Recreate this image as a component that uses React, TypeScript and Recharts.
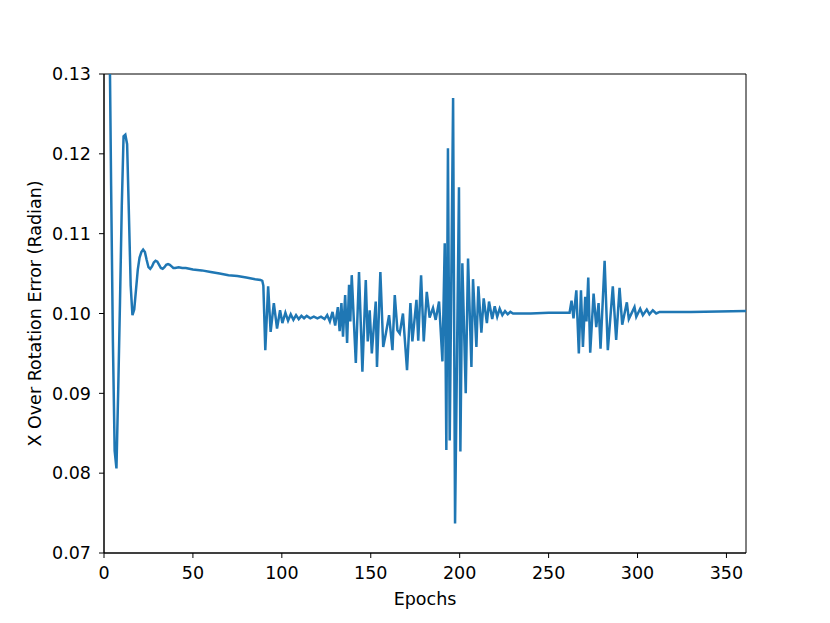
import { Label, Line, LineChart, ReferenceArea, XAxis, YAxis } from "recharts";

const epochs = [
  0, 1, 2, 3, 4, 5, 6, 7, 8, 9, 10, 11, 12, 13, 14, 15, 16, 17, 18, 19, 20,
  21, 22, 23, 24, 25, 26, 27, 28, 29, 30, 31, 32, 33, 34, 35, 36, 37, 38, 39,
  40, 42, 44, 46, 48, 50, 55, 60, 65, 70, 75, 80, 85, 88, 89, 89.6, 90.7,
  92.3, 93.7, 95.5, 97.3, 99, 100.3, 102, 103.5, 105, 106.5, 108, 109.5, 111,
  112.5, 114, 116, 118, 120, 122, 124, 125.5, 127, 128.5, 130, 131.5, 132.5,
  133.5, 134.4, 135.6, 136.7, 137.8, 138.5, 139.3, 141.6, 143.4, 145.3, 147.2,
  148.3, 149.4, 150.6, 152.8, 153.5, 155.4, 157, 158.5, 160.3, 162.2, 163.5,
  165, 166.3, 168.1, 170.4, 172.3, 173.4, 175.7, 176.7, 178.3, 179.8, 181.5,
  183.1, 185, 186.5, 188.4, 190.3, 191.6, 192.5, 193.4, 194.4, 196.3, 197.4,
  199.6, 200.4, 201.5, 203.4, 204.7, 206.6, 207.5, 209.4, 210.5, 212.2, 213.5,
  215.3, 216.5, 218.3, 219.7, 221.1, 222.5, 224, 225.5, 227, 228.5, 230, 240,
  250, 261.8, 262.9, 264, 265.6, 267, 268.2, 269.3, 270.6, 271.3, 272.3,
  273.4, 275.3, 276.8, 278.1, 279.2, 281.5, 283.3, 286.1, 288, 289.9, 291.4,
  294, 295.1, 298.3, 299.3, 301.5, 303, 305.2, 306.7, 308.6, 310.5, 312.4,
  330, 361,
];

const xRotErr = [
  0.175, 0.165, 0.152, 0.138, 0.116, 0.0965, 0.0828, 0.0806, 0.0905, 0.1015,
  0.1135, 0.1222, 0.1224, 0.1212, 0.1125, 0.1035, 0.0998, 0.1005, 0.103,
  0.1055, 0.107, 0.1077, 0.108, 0.1077, 0.1067, 0.1058, 0.1056, 0.1059,
  0.1064, 0.1066, 0.1065, 0.1061, 0.1057, 0.1056, 0.1058, 0.1061, 0.1062,
  0.1061, 0.1059, 0.1057, 0.1057, 0.1058, 0.1057, 0.1057, 0.1056, 0.1055,
  0.1054, 0.1052, 0.105, 0.1048, 0.1047, 0.1045, 0.1043, 0.1042, 0.1041,
  0.1035, 0.0954, 0.1034, 0.0977, 0.1013, 0.0981, 0.1004, 0.0988, 0.1001,
  0.0991, 0.0999, 0.0992, 0.0998, 0.0993, 0.0997, 0.0994, 0.0997, 0.0994,
  0.0996, 0.0994, 0.0996, 0.0993, 0.0998, 0.099, 0.1002, 0.0985, 0.1008,
  0.0978, 0.1013, 0.0971, 0.1023, 0.0963, 0.1036, 0.099, 0.1048, 0.0938,
  0.1052, 0.0927, 0.1042, 0.0965, 0.1004, 0.095, 0.1015, 0.0933, 0.1052,
  0.0958, 0.0975, 0.0998, 0.0954, 0.1023, 0.0979, 0.0975, 0.1, 0.0929,
  0.1013, 0.0965, 0.1017, 0.0966, 0.1048, 0.0965, 0.1027, 0.0995, 0.1007,
  0.0992, 0.1015, 0.094, 0.1088, 0.0829, 0.1207, 0.0841, 0.127, 0.0737,
  0.1158, 0.0827, 0.1063, 0.09, 0.1069, 0.0933, 0.1043, 0.0958, 0.1034,
  0.0976, 0.1019, 0.0988, 0.1015, 0.0993, 0.1009, 0.0996, 0.1006, 0.0998,
  0.1003, 0.0999, 0.1002, 0.1, 0.1, 0.1001, 0.1001, 0.1016, 0.0994, 0.1029,
  0.095, 0.1029, 0.0958, 0.1021, 0.099, 0.1045, 0.0951, 0.1025, 0.0983,
  0.1013, 0.0956, 0.1066, 0.0954, 0.1034, 0.0967, 0.1032, 0.0986, 0.1014,
  0.0993, 0.1008, 0.0996, 0.1006, 0.0998, 0.1005, 0.0999, 0.1004, 0.1,
  0.1002, 0.1002, 0.1003,
];

const xTicks = [0, 50, 100, 150, 200, 250, 300, 350];
const yTicks = [0.07, 0.08, 0.09, 0.1, 0.11, 0.12, 0.13];

const data = epochs.map((epoch, i) => ({ epoch, err: xRotErr[i] }));

const tickStyle = { fill: "#000", fontSize: 17.5, fontFamily: "DejaVu Sans" };

export default function App() {
  return (
    <div
      style={{
        position: "absolute",
        left: 0,
        top: 0,
        width: 830,
        height: 623,
        background: "#fff",
        fontFamily: "DejaVu Sans",
      }}
    >
      <LineChart
        width={830}
        height={623}
        data={data}
        margin={{ top: 74, right: 84, bottom: 0, left: 0 }}
      >
        <XAxis
          dataKey="epoch"
          type="number"
          domain={[0, 361]}
          ticks={xTicks}
          allowDataOverflow
          height={70}
          tickSize={5}
          tickMargin={9}
          tick={tickStyle}
          stroke="#000"
        >
          <Label
            value="Epochs"
            position="center"
            dy={11}
            style={{ fill: "#000", fontSize: 17.5, fontFamily: "DejaVu Sans" }}
          />
        </XAxis>
        <YAxis
          type="number"
          domain={[0.07, 0.13]}
          ticks={yTicks}
          allowDataOverflow
          width={104}
          tickSize={5}
          tickMargin={8}
          tick={tickStyle}
          tickFormatter={(v: number) => v.toFixed(2)}
          stroke="#000"
        >
          <Label
            value="X Over Rotation Error (Radian)"
            position="center"
            angle={-90}
            dx={-17}
            style={{ fill: "#000", fontSize: 17.5, fontFamily: "DejaVu Sans", textAnchor: "middle" }}
          />
        </YAxis>
        <ReferenceArea
          x1={0}
          x2={361}
          y1={0.07}
          y2={0.13}
          fill="none"
          stroke="#000"
          strokeWidth={1}
          fillOpacity={0}
        />
        <Line
          type="linear"
          dataKey="err"
          stroke="#1f77b4"
          strokeWidth={2.5}
          dot={false}
          isAnimationActive={false}
        />
      </LineChart>
    </div>
  );
}
